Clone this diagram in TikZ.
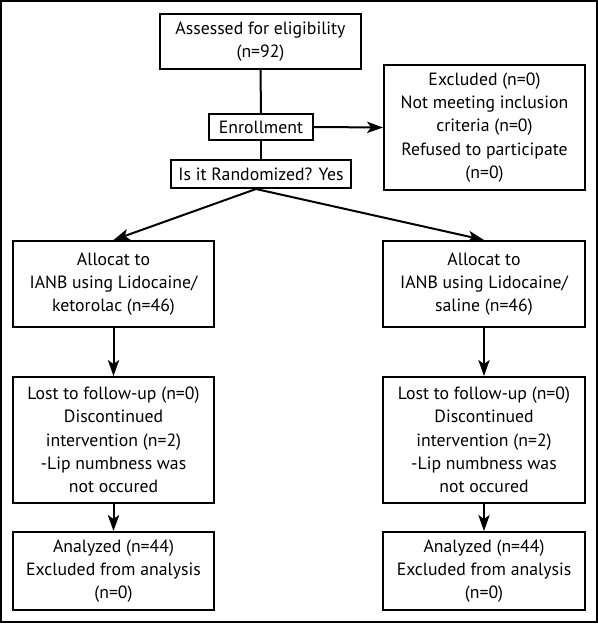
\documentclass[tikz,border=0pt]{standalone}
\usepackage{fontspec}
\setmainfont{PT Sans}
\usetikzlibrary{arrows.meta}

\tikzset{every picture/.style={line width=1.5pt}}
\tikzset{
  flowbox/.style={draw, rectangle, inner sep=0pt, align=center,
    font=\fontsize{13.3}{17.5}\selectfont},
  boxsize/.style 2 args={minimum width=#1*0.75pt, minimum height=#2*0.75pt},
  flowarrow/.style={-{Stealth[length=12pt,width=8.5pt,inset=3pt]}}
}

\begin{document}
\begin{tikzpicture}[x=0.75pt,y=0.75pt,yscale=-1,xscale=1]
\useasboundingbox (0,0) rectangle (598,624);

%Shape: Frame
\draw [line width=2pt] (1,1) rectangle (597,622);

%Shape: Rectangle (top of the chart)
\node (assess) [flowbox, boxsize={201}{55}] at (260.5,41.5) {Assessed for eligibility\\(n=92)};
\node (enrol) [flowbox, boxsize={104}{26}] at (261,127) {Enrollment};
\node (rand) [flowbox, boxsize={180}{28}] at (261,174) {Is it Randomized? Yes};
\node (excl) [flowbox, boxsize={201}{125}] at (484.5,127.5) {Excluded (n=0)\\Not meeting inclusion\\criteria (n=0)\\Refused to participate\\(n=0)};

%Shape: Rectangle (left arm)
\node (allocL) [flowbox, boxsize={201}{86}] at (113.5,284) {Allocat to\\IANB using Lidocaine/\\ketorolac (n=46)};
\node (lostL) [flowbox, boxsize={201}{126}] at (113.5,440) {Lost to follow-up (n=0)\\Discontinued\\intervention (n=2)\\-Lip numbness was\\not occured};
\node (anaL) [flowbox, boxsize={201}{78}] at (113.5,571) {Analyzed (n=44)\\Excluded from analysis\\(n=0)};

%Shape: Rectangle (right arm)
\node (allocR) [flowbox, boxsize={202}{86}] at (484,284) {Allocat to\\IANB using Lidocaine/\\saline (n=46)};
\node (lostR) [flowbox, boxsize={202}{126}] at (484,440) {Lost to follow-up (n=0)\\Discontinued\\intervention (n=2)\\-Lip numbness was\\not occured};
\node (anaR) [flowbox, boxsize={202}{78}] at (484,571) {Analyzed (n=44)\\Excluded from analysis\\(n=0)};

%Straight Lines
\draw (assess.south) -- (enrol.north);
\draw (enrol.south) -- (rand.north);
\draw [flowarrow] (enrol.east) -- (excl.west);

\coordinate (split) at ([xshift=-3.75pt]rand.south);
\draw [flowarrow] (split) -- (allocL.north);
\draw [flowarrow] (split) -- (allocR.north);

\draw [flowarrow] (allocL.south) -- (lostL.north);
\draw [flowarrow] (lostL.south) -- (anaL.north);
\draw [flowarrow] (allocR.south) -- (lostR.north);
\draw [flowarrow] (lostR.south) -- (anaR.north);

\end{tikzpicture}
\end{document}
